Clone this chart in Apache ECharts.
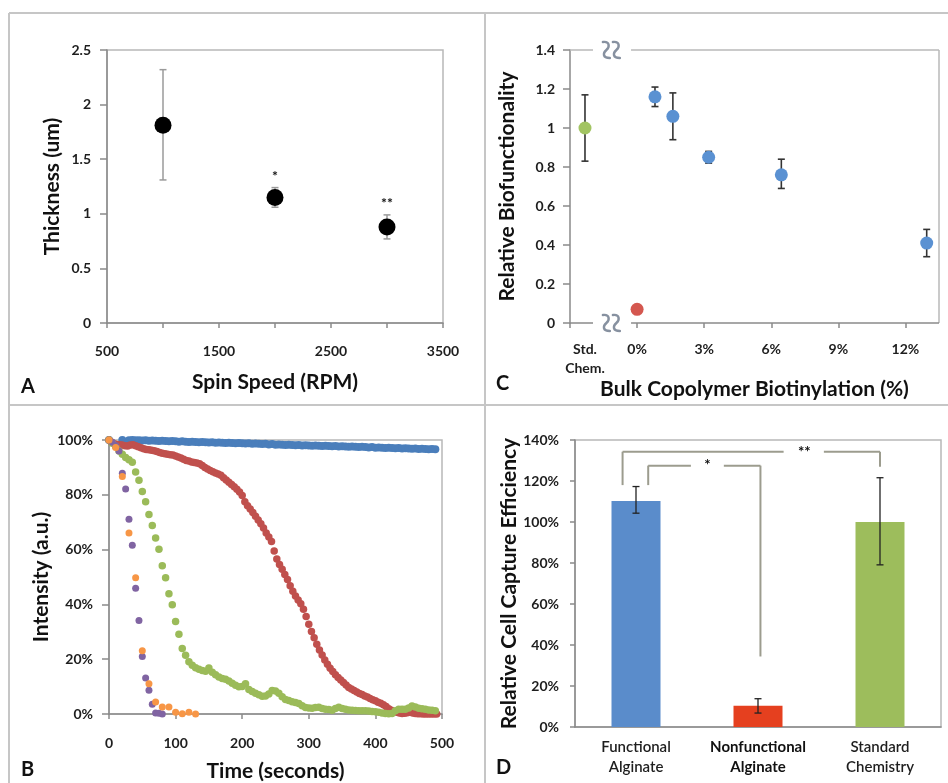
<!DOCTYPE html>
<html><head><meta charset="utf-8">
<script src="https://cdn.jsdelivr.net/npm/echarts@6/dist/echarts.min.js"></script>
<style>html,body{margin:0;padding:0;background:#fff}#c{width:948px;height:783px}</style>
</head><body><div id="c"></div>
<script>
// ---------- Panel A : film thickness vs spin speed ----------
const spinSpeed = [1000, 2000, 3000];
const thickness = [1.81, 1.15, 0.88];
const thicknessLow = [1.31, 1.06, 0.77];
const thicknessHigh = [2.32, 1.24, 0.99];
const thicknessStars = ['', '*', '**'];

// ---------- Panel C : relative biofunctionality ----------
const stdChemX = -2.33;            // x position of "Std. Chem." column
const stdChem = [1.00, 0.83, 1.17]; // value, low, high
const negCtrl = [0, 0.07];          // 0% biotinylation
const biotinPct = [0.8, 1.6, 3.2, 6.45, 12.95];
const biofunc = [1.16, 1.06, 0.85, 0.76, 0.41];
const biofuncLow = [1.11, 0.94, 0.82, 0.69, 0.34];
const biofuncHigh = [1.21, 1.18, 0.88, 0.84, 0.48];
const cTickVals = [-3, 0, 3, 6, 9, 12];
const cLabelVals = [stdChemX, 0, 3, 6, 9, 12];
const breakLeft = -1.97, breakRight = -0.27, breakMid = -1.15;

// ---------- Panel B : intensity vs time ----------
const blueStep = 5;
const blueVals = [100.0,100.2,100.1,100.2,100.0,100.1,99.9,100.0,99.9,99.9,
99.8,99.9,99.7,99.8,99.7,99.6,99.7,99.6,99.5,99.6,
99.5,99.4,99.5,99.4,99.3,99.4,99.3,99.2,99.3,99.2,
99.1,99.2,99.0,99.1,99.0,98.9,99.0,98.9,98.8,98.9,
98.8,98.7,98.8,98.6,98.7,98.6,98.5,98.6,98.4,98.5,
98.3,98.4,98.3,98.2,98.3,98.2,98.1,98.2,98.0,98.1,
98.0,97.9,98.0,97.9,97.8,97.9,97.8,97.7,97.8,97.6,
97.7,97.6,97.5,97.6,97.5,97.4,97.5,97.4,97.3,97.4,
97.2,97.3,97.2,97.1,97.2,97.1,97.0,97.1,96.9,97.0,
96.9,96.8,96.9,96.7,96.8,96.7,96.6,96.7,96.6];
const redStep = 4;
const redVals = [100,99.2,98.6,98.4,98.3,98.2,97.9,97.8,98.2,98.3,
97.9,97.5,97.2,96.8,96.5,96.4,96.3,96.1,95.8,95.4,
95.2,95.0,94.8,94.6,94.5,94.2,93.8,93.4,93.0,92.5,
92.3,92.0,91.8,91.6,91.3,90.7,90.0,89.4,88.9,88.4,
88.0,87.6,87.1,86.2,85.4,84.6,83.8,82.9,82.0,81.0,
79.7,77.5,76.0,74.8,73.5,72.2,70.8,69.4,67.9,66.1,
64.6,63.0,59.5,56.6,54.6,52.8,50.9,49.1,46.8,44.8,
43.1,41.6,40.2,38.2,35.6,32.8,30.1,27.8,25.5,23.4,
21.5,19.7,18.2,16.7,15.5,14.3,13.3,12.4,11.5,10.6,
9.7,9.1,8.6,8.0,7.5,7.1,6.6,6.2,5.7,5.2,
4.8,4.3,3.9,3.4,2.7,1.9,1.4,0.9,0.6,0.4,
0.2,0.3,0.5,0.6,0.4,0.2,0.1,0.1,0,0,
0,0,0,0];
const greenStep = 5;
const greenVals = [100,98.8,97.6,96,94.8,93.6,92.8,91.9,88.3,85.3,
81.2,77.5,72.8,68.8,64.2,60.1,54.1,49.7,43.9,39.9,
33.8,29.1,23.9,21.4,19.1,17.8,16.9,16.3,15.9,15.6,
16.8,15.2,14.3,13.5,13.0,12.7,12.0,11.2,10.5,9.9,
10.0,11.0,8.9,8.2,7.6,7.0,6.5,6.6,7.3,8.6,
8.4,7.6,6.3,5.3,4.9,4.5,4.2,3.8,3.0,2.4,
2.2,2.1,2.4,2.5,2.0,1.7,1.6,1.4,2.0,2.5,
2.0,1.7,1.5,1.4,1.3,1.2,1.2,1.2,1.1,0.9,
0.8,0.6,0.4,0.2,0.1,0.2,1.2,1.7,1.7,1.7,
2.2,2.9,2.6,2.1,1.9,1.7,1.5,1.4,1.2];
const purpleStep = 5;
const purpleVals = [100,99.2,98,96,87.9,82.1,71.1,61.6,45.9,34.1,21,13.1,8.7,3.6,0.4,0.3,0];
const orangeStep = 10;
const orangeVals = [100,97.3,86.7,66.1,49.7,23.1,11,4.4,2.6,2.6,0.6,0.1,0.6,0];

// ---------- Panel D : cell capture efficiency ----------
const captureCats = ['Functional\nAlginate', 'Nonfunctional\nAlginate', 'Standard\nChemistry'];
const captureVals = [110.3, 10.4, 100];
const captureLow = [104.3, 6.8, 79.1];
const captureHigh = [117.3, 13.8, 121.6];
const captureColors = ['#5a8ccb', '#e5401f', '#9dbd5c'];
// significance brackets [x1, y1, x2, y2] in category units / percent
const bracketSegs = [
  [-0.11, 118, -0.11, 134.3], [-0.11, 134.3, 1.21, 134.3], [1.54, 134.3, 2.0, 134.3], [2.0, 134.3, 2.0, 127],
  [0.10, 118, 0.10, 127.5], [0.10, 127.5, 0.45, 127.5], [0.72, 127.5, 1.02, 127.5], [1.02, 127.5, 1.02, 34.4]
];
const bracketMarks = [[1.38, 134.3], [0.585, 127.5]];
const bracketText = ['**', '*'];

// ---------- helpers ----------
const FONT = 'Lato, "Open Sans", sans-serif';
const tickLbl = {fontSize: 14, fontWeight: 'bold', color: '#1e1e1e', fontFamily: FONT};
const nameStyle = {fontSize: 21, fontWeight: 'bold', color: '#111', fontFamily: FONT};
const axisLn = {onZero: false, lineStyle: {color: '#8a8a8a', width: 1.5}};
const tickLn = {lineStyle: {color: '#8a8a8a', width: 1.5}};
function toPairs(step, vals) { return vals.map((v, i) => [i * step, v]); }

function errRender(color, cap, lw, stars, starOffset) {
  return function (params, api) {
    const x = api.value(0), lo = api.value(1), hi = api.value(2);
    const a = api.coord([x, hi]), b = api.coord([x, lo]);
    const st = {stroke: color, lineWidth: lw};
    const ch = [
      {type: 'line', shape: {x1: a[0], y1: a[1], x2: b[0], y2: b[1]}, style: st},
      {type: 'line', shape: {x1: a[0] - cap, y1: a[1], x2: a[0] + cap, y2: a[1]}, style: st},
      {type: 'line', shape: {x1: b[0] - cap, y1: b[1], x2: b[0] + cap, y2: b[1]}, style: st}
    ];
    if (stars && stars[params.dataIndex]) {
      ch.push({type: 'text', style: {text: stars[params.dataIndex], x: a[0], y: a[1] - starOffset,
        fill: '#111', fontSize: 14, fontWeight: 'bold', fontFamily: FONT, align: 'center', verticalAlign: 'middle'}});
    }
    return {type: 'group', children: ch};
  };
}
function segRender(color, lw) {
  return function (params, api) {
    const p = api.coord([api.value(0), api.value(1)]);
    const q = api.coord([api.value(2), api.value(3)]);
    return {type: 'line', shape: {x1: p[0], y1: p[1], x2: q[0], y2: q[1]}, style: {stroke: color, lineWidth: lw}};
  };
}
function textRender(texts, color, size) {
  return function (params, api) {
    const p = api.coord([api.value(0), api.value(1)]);
    return {type: 'text', style: {text: texts[params.dataIndex], x: p[0], y: p[1], fill: color,
      fontSize: size, fontWeight: 'bold', fontFamily: FONT, align: 'center', verticalAlign: 'middle'}};
  };
}
// axis-break symbol: two wavy strokes
function breakRender(params, api) {
  const p = api.coord([api.value(0), api.value(1)]);
  const wave = 'M -3.5 -8 C 3.5 -9 3.5 -3 0 0 C -3.5 3 -4 8 3.5 8';
  const st = {stroke: '#8791a0', fill: null, lineWidth: 2.4, lineCap: 'round'};
  return {type: 'group', children: [
    {type: 'path', x: p[0] - 5, y: p[1], shape: {pathData: wave}, style: st},
    {type: 'path', x: p[0] + 5, y: p[1], shape: {pathData: wave}, style: st}
  ]};
}

const chart = echarts.init(document.getElementById('c'), null, {renderer: 'canvas'});
const frame = {stroke: '#c6c6c6', lineWidth: 2};
const letter = (t, x, y) => ({type: 'text', x: x, y: y, style: {text: t, fill: '#111', fontSize: 20, fontWeight: 'bold', fontFamily: FONT, verticalAlign: 'middle'}});
const dot = c => ({color: c, opacity: 1});

const option = {
  animation: false,
  backgroundColor: '#fff',
  textStyle: {fontFamily: FONT},
  graphic: [
    {type: 'line', shape: {x1: 9, y1: 13, x2: 948, y2: 13}, style: frame},
    {type: 'line', shape: {x1: 9, y1: 13, x2: 9, y2: 783}, style: frame},
    {type: 'line', shape: {x1: 485, y1: 13, x2: 485, y2: 783}, style: frame},
    {type: 'line', shape: {x1: 9, y1: 405, x2: 948, y2: 405}, style: frame},
    letter('A', 21, 386.5), letter('C', 496, 383.5), letter('B', 21, 770), letter('D', 496, 767.5)
  ],
  grid: [
    {left: 107, top: 50, width: 336, height: 273, show: true, borderColor: '#b8b8b8', borderWidth: 1.5},
    {left: 570, top: 50, width: 369, height: 273},
    {left: 109, top: 440, width: 333, height: 288, show: true, borderColor: '#b8b8b8', borderWidth: 1.5},
    {left: 575, top: 440, width: 366, height: 287, show: true, borderColor: '#b8b8b8', borderWidth: 1.5}
  ],
  xAxis: [
    {gridIndex: 0, type: 'value', min: 500, max: 3500, interval: 500,
      name: 'Spin Speed (RPM)', nameLocation: 'middle', nameGap: 49, nameTextStyle: nameStyle,
      axisLine: axisLn, axisTick: Object.assign({length: 5}, tickLn), splitLine: {show: false},
      axisLabel: Object.assign({margin: 21, showMinLabel: true, showMaxLabel: true,
        formatter: v => (v % 1000 === 500 ? String(v) : '')}, tickLbl)},
    {gridIndex: 1, type: 'value', min: -3, max: 13.5, interval: 3,
      name: 'Bulk Copolymer Biotinylation (%)', nameLocation: 'middle', nameGap: 53, nameTextStyle: nameStyle,
      axisLine: {show: false, onZero: false}, splitLine: {show: false},
      axisTick: Object.assign({show: true, length: 5, customValues: cTickVals}, tickLn),
      axisLabel: Object.assign({margin: 17, customValues: cLabelVals, lineHeight: 19,
        formatter: v => (v < -1 ? 'Std.\nChem.' : v + '%')}, tickLbl)},
    {gridIndex: 2, type: 'value', min: 0, max: 500, interval: 100,
      name: 'Time (seconds)', nameLocation: 'middle', nameGap: 47, nameTextStyle: nameStyle,
      axisLine: axisLn, axisTick: Object.assign({length: 5}, tickLn), splitLine: {show: false},
      axisLabel: Object.assign({margin: 22}, tickLbl)},
    {gridIndex: 3, type: 'category', data: captureCats,
      axisLine: axisLn, axisTick: {show: false}, splitLine: {show: false},
      axisLabel: {interval: 0, margin: 10, lineHeight: 20, fontSize: 15, color: '#1e1e1e', fontFamily: FONT,
        formatter: (v, i) => (i === 1 ? '{b|' + v.replace('\n', '}\n{b|') + '}' : '{n|' + v.replace('\n', '}\n{n|') + '}'),
        rich: {n: {fontSize: 15, fontWeight: 600, color: '#1e1e1e', fontFamily: FONT, lineHeight: 20},
               b: {fontSize: 15, fontWeight: 'bold', color: '#111', fontFamily: FONT, lineHeight: 20}}}},
    {gridIndex: 3, type: 'value', min: -0.5, max: 2.5, show: false,
      axisLine: {show: false, onZero: false}, axisTick: {show: false}, axisLabel: {show: false}, splitLine: {show: false}}
  ],
  yAxis: [
    {gridIndex: 0, type: 'value', min: 0, max: 2.5, interval: 0.5,
      name: 'Thickness (um)', nameLocation: 'middle', nameGap: 44, nameTextStyle: nameStyle,
      axisLine: Object.assign({show: true}, axisLn), axisTick: Object.assign({show: true, length: 7}, tickLn),
      splitLine: {show: false}, axisLabel: Object.assign({margin: 16}, tickLbl)},
    {gridIndex: 1, type: 'value', min: 0, max: 1.4, interval: 0.2,
      name: 'Relative Biofunctionality', nameLocation: 'middle', nameGap: 52, nameTextStyle: nameStyle,
      axisLine: Object.assign({show: true}, axisLn), axisTick: Object.assign({show: true, length: 7}, tickLn),
      splitLine: {show: false}, axisLabel: Object.assign({margin: 15, formatter: v => String(Number(v.toFixed(1)))}, tickLbl)},
    {gridIndex: 2, type: 'value', min: 0, max: 100, interval: 20,
      name: 'Intensity (a.u.)', nameLocation: 'middle', nameGap: 57, nameTextStyle: nameStyle,
      axisLine: Object.assign({show: true}, axisLn), axisTick: Object.assign({show: true, length: 7}, tickLn),
      splitLine: {show: false}, axisLabel: Object.assign({margin: 16, formatter: '{value}%'}, tickLbl)},
    {gridIndex: 3, type: 'value', min: 0, max: 140, interval: 20,
      name: 'Relative Cell Capture Efficiency', nameLocation: 'middle', nameGap: 53, nameTextStyle: nameStyle,
      axisLine: Object.assign({show: true}, axisLn), axisTick: Object.assign({show: true, length: 5}, tickLn),
      splitLine: {show: false}, axisLabel: Object.assign({margin: 16, formatter: '{value}%'}, tickLbl)}
  ],
  series: [
    // ----- A -----
    {type: 'custom', xAxisIndex: 0, yAxisIndex: 0, clip: false, z: 2,
      renderItem: errRender('#9a9a9a', 3.5, 1.5, thicknessStars, 11),
      data: spinSpeed.map((x, i) => [x, thicknessLow[i], thicknessHigh[i]])},
    {type: 'scatter', xAxisIndex: 0, yAxisIndex: 0, symbolSize: 17, z: 3,
      itemStyle: dot('#000'), data: spinSpeed.map((x, i) => [x, thickness[i]])},
    // ----- C -----
    {type: 'custom', xAxisIndex: 1, yAxisIndex: 1, clip: false, z: 1,
      renderItem: segRender('#b8b8b8', 1.5),
      data: [[-3, 1.4, breakLeft, 1.4], [breakRight, 1.4, 13.5, 1.4], [13.5, 0, 13.5, 1.4]]},
    {type: 'custom', xAxisIndex: 1, yAxisIndex: 1, clip: false, z: 1,
      renderItem: segRender('#8a8a8a', 1.5),
      data: [[-3, 0, breakLeft, 0], [breakRight, 0, 13.5, 0]]},
    {type: 'custom', xAxisIndex: 1, yAxisIndex: 1, clip: false, z: 2,
      renderItem: breakRender, data: [[breakMid, 1.4], [breakMid, 0]]},
    {type: 'custom', xAxisIndex: 1, yAxisIndex: 1, clip: false, z: 2,
      renderItem: errRender('#333', 3.5, 1.6, null, 0),
      data: [[stdChemX, stdChem[1], stdChem[2]]].concat(biotinPct.map((x, i) => [x, biofuncLow[i], biofuncHigh[i]]))},
    {type: 'scatter', xAxisIndex: 1, yAxisIndex: 1, symbolSize: 13, z: 3,
      itemStyle: dot('#a2c462'), data: [[stdChemX, stdChem[0]]]},
    {type: 'scatter', xAxisIndex: 1, yAxisIndex: 1, symbolSize: 13, z: 3,
      itemStyle: dot('#d4574f'), data: [negCtrl]},
    {type: 'scatter', xAxisIndex: 1, yAxisIndex: 1, symbolSize: 13, z: 3,
      itemStyle: dot('#5a91d2'), data: biotinPct.map((x, i) => [x, biofunc[i]])},
    // ----- B -----
    {type: 'scatter', xAxisIndex: 2, yAxisIndex: 2, symbolSize: 8, itemStyle: dot('#4a7ebb'), data: toPairs(blueStep, blueVals)},
    {type: 'scatter', xAxisIndex: 2, yAxisIndex: 2, symbolSize: 7.5, itemStyle: dot('#c0504d'), data: toPairs(redStep, redVals)},
    {type: 'scatter', xAxisIndex: 2, yAxisIndex: 2, symbolSize: 7.5, itemStyle: dot('#9bbb59'), data: toPairs(greenStep, greenVals)},
    {type: 'scatter', xAxisIndex: 2, yAxisIndex: 2, symbolSize: 7, itemStyle: dot('#8064a2'), data: toPairs(purpleStep, purpleVals)},
    {type: 'scatter', xAxisIndex: 2, yAxisIndex: 2, symbolSize: 7, itemStyle: dot('#f79646'), data: toPairs(orangeStep, orangeVals)},
    // ----- D -----
    {type: 'bar', xAxisIndex: 3, yAxisIndex: 3, barWidth: 49, z: 2,
      data: captureVals.map((v, i) => ({value: v, itemStyle: {color: captureColors[i]}}))},
    {type: 'custom', xAxisIndex: 4, yAxisIndex: 3, clip: false, z: 3,
      renderItem: errRender('#222', 3.5, 1.3, null, 0),
      data: captureVals.map((v, i) => [i, captureLow[i], captureHigh[i]])},
    {type: 'custom', xAxisIndex: 4, yAxisIndex: 3, clip: false, z: 3,
      renderItem: segRender('#9c9c8e', 2), data: bracketSegs},
    {type: 'custom', xAxisIndex: 4, yAxisIndex: 3, clip: false, z: 3,
      renderItem: textRender(bracketText, '#111', 15), data: bracketMarks}
  ]
};
chart.setOption(option);
</script>
</body></html>
